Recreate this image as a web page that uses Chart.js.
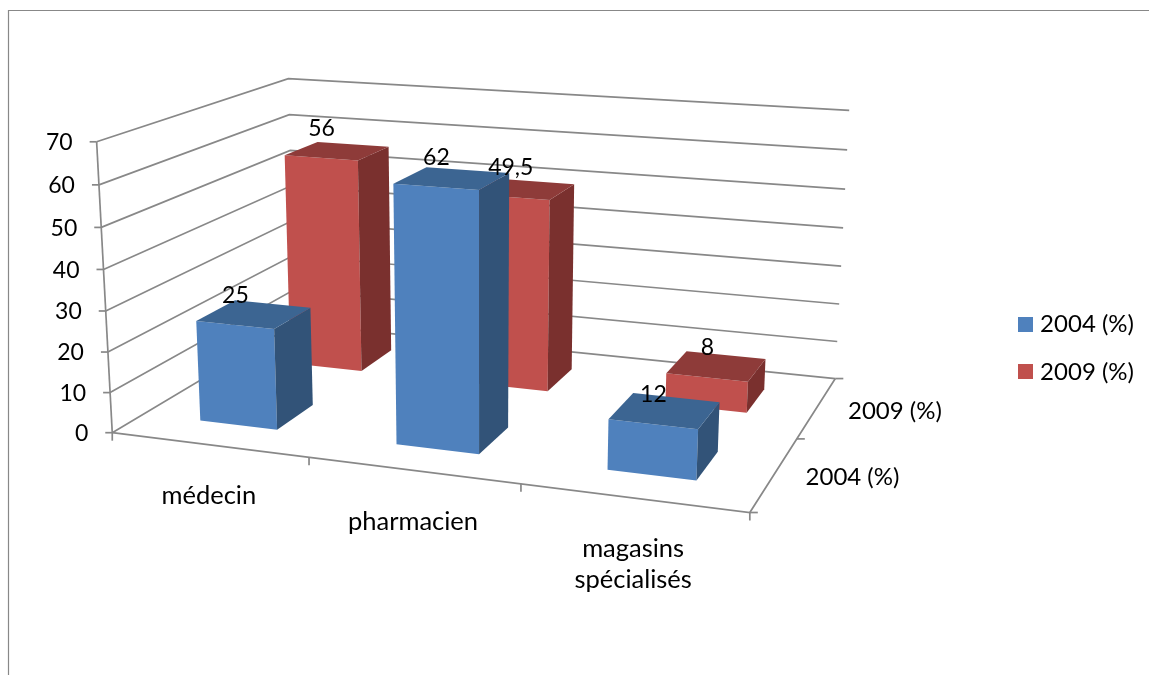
<!DOCTYPE html>
<html><head><meta charset="utf-8">
<style>html,body{margin:0;padding:0;background:#fff}canvas{display:block}</style>
<script src="https://cdn.jsdelivr.net/npm/chart.js@4"></script>
</head><body><canvas id="c" width="1149" height="675"></canvas>
<script>
const categories = ['médecin', 'pharmacien', ['magasins', 'spécialisés']];
const seriesNames = ['2004 (%)', '2009 (%)'];
const values2004 = [25, 62, 12];
const values2009 = [56, 49.5, 8];
const colors2004 = {front:'#4F81BD', top:'#3C6592', side:'#325378'};
const colors2009 = {front:'#C0504D', top:'#8E3B39', side:'#7A302E'};
const FONT_NUM = '23px Lato';
const FONT_CAT = '25.5px Lato';
const FONT_SER = '24px Lato';
const LINE = '#888888';

// camera calibration: [u, depth, height] -> pixel, for the 3D box the chart sits in
const calibration = [
 [0,0,0, 112.3,432.7],[1,0,0, 749.3,512.7],[1,1,0, 835,378.7],
 [0,0,1, 96.7,141.7],[0,1,1, 288.3,79],[1,1,1, 849.3,110.3],
 [1,1,6/7, 847,150],[0,1,6/7, 289.3,114.3],[1,1,3/7, 841.3,266.3],
 [1/3,0,0, 309,457.4],[2/3,0,0, 521,484],[1,.5,0, 797.5,438.3]
];
function solveCamera(pts){
  const rows=[],rhs=[];
  for(const [u,w,h,x,y] of pts){
    rows.push([u,w,h,1,0,0,0,0,-x*u,-x*w,-x*h]);rhs.push(x);
    rows.push([0,0,0,0,u,w,h,1,-y*u,-y*w,-y*h]);rhs.push(y);
  }
  const n=11,A=[];
  for(let i=0;i<n;i++){A[i]=[];for(let j=0;j<=n;j++){let s=0;
    rows.forEach((r,k)=>{s+=r[i]*(j<n?r[j]:rhs[k]);});A[i][j]=s;}}
  for(let i=0;i<n;i++){
    let p=i;for(let k=i+1;k<n;k++)if(Math.abs(A[k][i])>Math.abs(A[p][i]))p=k;
    [A[i],A[p]]=[A[p],A[i]];
    for(let k=0;k<n;k++){if(k===i)continue;const f=A[k][i]/A[i][i];
      for(let j=i;j<=n;j++)A[k][j]-=f*A[i][j];}
  }
  return A.map((r,i)=>r[n]/r[i]);
}
const cam=solveCamera(calibration);
function P(u,w,h){
  const d=cam[8]*u+cam[9]*w+cam[10]*h+1;
  return [(cam[0]*u+cam[1]*w+cam[2]*h+cam[3])/d,(cam[4]*u+cam[5]*w+cam[6]*h+cam[7])/d];
}
function line(ctx,pts){ctx.beginPath();pts.forEach((p,i)=>i?ctx.lineTo(p[0],p[1]):ctx.moveTo(p[0],p[1]));ctx.stroke();}
function face(ctx,pts,color){ctx.fillStyle=color;ctx.beginPath();pts.forEach((p,i)=>i?ctx.lineTo(p[0],p[1]):ctx.moveTo(p[0],p[1]));ctx.closePath();ctx.fill();}
function swatch(color){
  const s=document.createElement('canvas');s.width=15;s.height=15;
  const g=s.getContext('2d');g.fillStyle=color;g.fillRect(0,0,15,15);return s;
}

const bars3d={
  id:'bars3d',
  beforeDatasetsDraw(chart){
    const ctx=chart.ctx,xs=chart.scales.x,ys=chart.scales.y;
    const nx=v=>(v-xs.left)/xs.width, ny=v=>(ys.bottom-v)/(ys.bottom-ys.top);
    ctx.save();
    // frame
    ctx.strokeStyle=LINE;ctx.lineWidth=1.2;
    line(ctx,[[8.5,675],[8.5,10.5],[1149,10.5]]);
    // walls, floor, gridlines
    ctx.lineWidth=1.7;
    ys.ticks.forEach(t=>{
      const h=ny(ys.getPixelForValue(t.value));
      line(ctx,[P(0,0,h),P(0,1,h),P(1,1,h)]);
      const a=P(0,0,h);line(ctx,[[a[0]-7,a[1]],a]);
    });
    line(ctx,[P(0,0,0),P(0,0,1)]);
    line(ctx,[P(0,0,0),P(1,0,0),P(1,1,0)]);
    const nc=categories.length;
    for(let i=0;i<=nc;i++){const a=P(i/nc,0,0);line(ctx,[a,[a[0],a[1]+8]]);}
    for(let i=0;i<=seriesNames.length;i++){const a=P(1,i/seriesNames.length,0);line(ctx,[a,[a[0]+8,a[1]]]);}
    // bars, rear series first
    const palettes=[colors2004,colors2009];
    const depthGap=0.4/seriesNames.length;
    for(let d=chart.data.datasets.length-1;d>=0;d--){
      const meta=chart.getDatasetMeta(d),pal=palettes[d];
      meta.data.forEach(el=>{
        const u0=nx(el.x-el.width/2),u1=nx(el.x+el.width/2),h=ny(el.y);
        const wc=(d+.5)/seriesNames.length,w0=wc-depthGap/2,w1=wc+depthGap/2;
        face(ctx,[P(u0,w0,0),P(u1,w0,0),P(u1,w0,h),P(u0,w0,h)],pal.front);
        face(ctx,[P(u1,w0,0),P(u1,w1,0),P(u1,w1,h),P(u1,w0,h)],pal.side);
        face(ctx,[P(u0,w0,h),P(u1,w0,h),P(u1,w1,h),P(u0,w1,h)],pal.top);
      });
    }
    // texts
    ctx.fillStyle='#000';ctx.font=FONT_NUM;ctx.textBaseline='middle';
    ctx.textAlign='right';
    ys.ticks.forEach(t=>{
      const a=P(0,0,ny(ys.getPixelForValue(t.value)));
      ctx.fillText(String(t.value),a[0]-24,a[1]+1);
    });
    ctx.font=FONT_CAT;ctx.textAlign='center';
    chart.data.labels.forEach((lab,i)=>{
      const a=P((i+.5)/nc,0,0),ls=Array.isArray(lab)?lab:[lab];
      ls.forEach((s,k)=>ctx.fillText(s,a[0],a[1]+51+k*31));
    });
    ctx.font=FONT_SER;ctx.textAlign='left';
    seriesNames.forEach((s,i)=>{
      const a=P(1,(i+.5)/seriesNames.length,0);
      ctx.fillText(s,a[0]+31,a[1]+3.5);
    });
    ctx.font=FONT_NUM;ctx.textAlign='center';
    for(let d=0;d<chart.data.datasets.length;d++){
      const meta=chart.getDatasetMeta(d),ds=chart.data.datasets[d];
      meta.data.forEach((el,i)=>{
        const wc=(d+.5)/seriesNames.length,w0=wc-depthGap/2;
        const a=P(nx(el.x),w0,ny(el.y));
        ctx.fillText(String(ds.data[i]).replace('.',','),a[0]+.5,a[1]-29.5);
      });
    }
    ctx.restore();
    return false;
  }
};

new Chart(document.getElementById('c'),{
  type:'bar',
  data:{labels:categories,datasets:[
    {label:seriesNames[0],data:values2004,backgroundColor:colors2004.front,borderWidth:0,grouped:false},
    {label:seriesNames[1],data:values2009,backgroundColor:colors2009.front,borderWidth:0,grouped:false}
  ]},
  options:{
    responsive:false,animation:false,
    layout:{padding:{top:21,right:5,left:0,bottom:0}},
    datasets:{bar:{barPercentage:0.4,categoryPercentage:1}},
    scales:{
      x:{display:false},
      y:{display:false,min:0,max:70,ticks:{stepSize:10}}
    },
    plugins:{
      tooltip:{enabled:false},
      legend:{position:'right',labels:{
        font:{family:'Lato',size:24},color:'#000',padding:23.7,
        usePointStyle:true,boxHeight:15,pointStyleWidth:6,
        generateLabels(chart){
          return Chart.defaults.plugins.legend.labels.generateLabels(chart).map((it,i)=>{
            it.pointStyle=swatch([colors2004,colors2009][i].front);return it;
          });
        }
      }}
    }
  },
  plugins:[bars3d]
});
</script></body></html>
